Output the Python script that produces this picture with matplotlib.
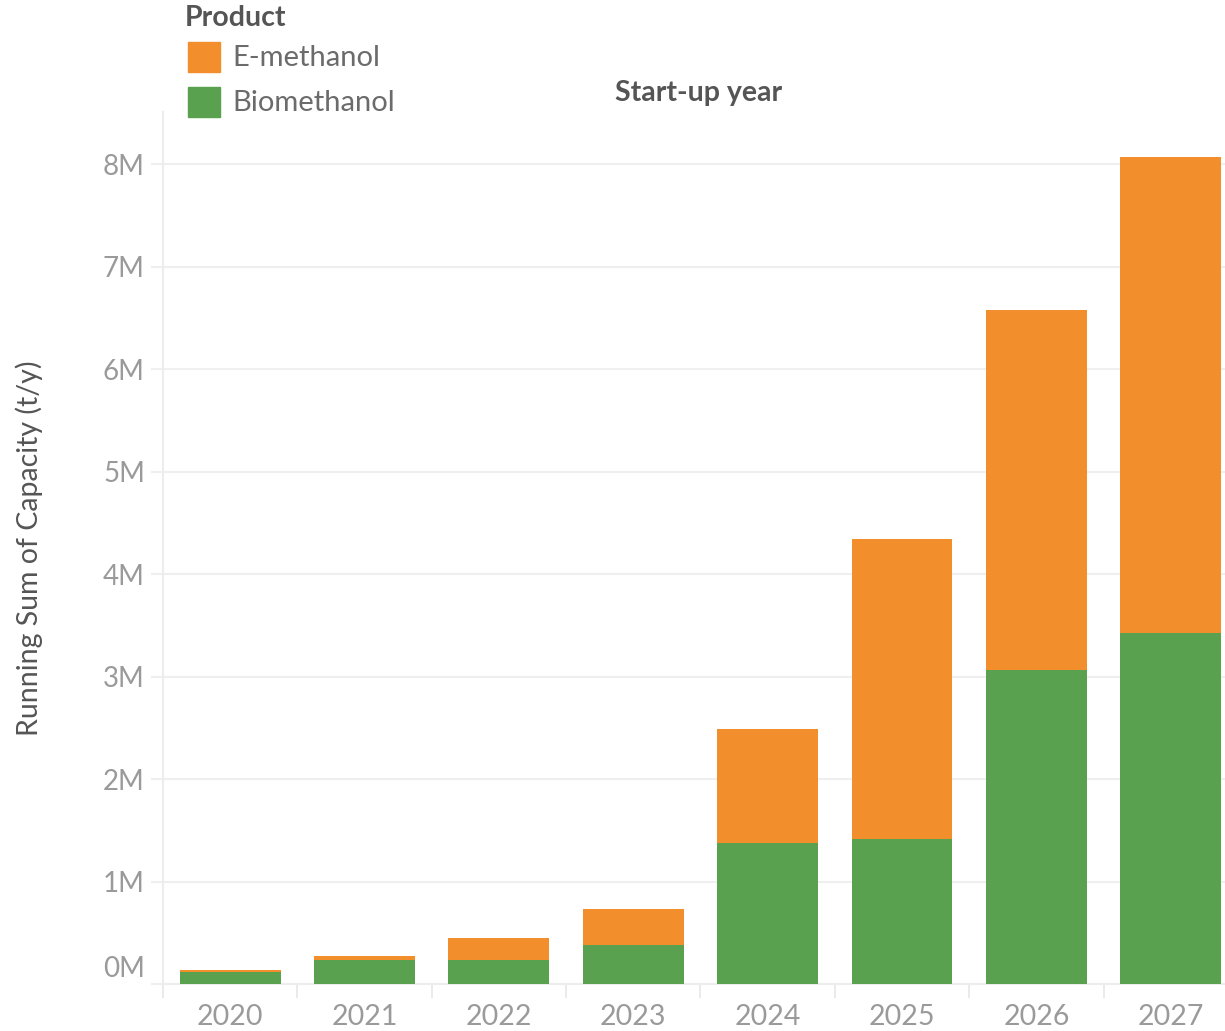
"""Running sum of methanol capacity by start-up year, stacked by product."""

import matplotlib.pyplot as plt
import matplotlib.transforms as mtransforms
import numpy as np
from matplotlib.patches import Rectangle

plt.rcParams["font.family"] = ["Lato", "DejaVu Sans"]

years = ["2020", "2021", "2022", "2023", "2024", "2025", "2026", "2027"]
# running sum (Mt/y)
biomethanol = [0.12, 0.24, 0.24, 0.38, 1.38, 1.42, 3.07, 3.43]
total = [0.14, 0.28, 0.45, 0.73, 2.49, 4.34, 6.58, 8.07]
e_methanol = [t - b for t, b in zip(total, biomethanol)]

ytick_values = [0, 1, 2, 3, 4, 5, 6, 7, 8]
ytick_labels = [f"{v}M" for v in ytick_values]

legend_labels = ["E-methanol", "Biomethanol"]

ORANGE = "#F28E2B"
GREEN = "#59A14F"
GRID = "#EFEFEF"
TICK_GRAY = "#9A9A9A"
TEXT_GRAY = "#555555"

W, H = 1225, 1031
fig = plt.figure(figsize=(W / 100, H / 100), dpi=100)
ax = fig.add_axes([0.133, 0.0453, 0.8776, 0.846])

x = np.arange(len(years))
ax.bar(x, biomethanol, width=0.75, color=GREEN, zorder=3)
ax.bar(x, e_methanol, width=0.75, bottom=biomethanol, color=ORANGE, zorder=3)

ax.set_xlim(-0.5, len(years) - 0.5)
ax.set_ylim(0, 8.51)

ax.set_yticks(ytick_values)
ax.set_yticklabels(ytick_labels)
ax.yaxis.grid(True, color=GRID, linewidth=1.5, zorder=0)
ax.tick_params(axis="y", length=9, color=GRID, width=1.5, pad=4,
               labelsize=20, labelcolor=TICK_GRAY)

# Tableau puts the zero label a bit above its line
for label in ax.get_yticklabels():
    if label.get_text() == "0M":
        offset = mtransforms.ScaledTranslation(0, 0.18, fig.dpi_scale_trans)
        label.set_transform(label.get_transform() + offset)

ax.set_xticks(x)
ax.set_xticklabels(years)
ax.tick_params(axis="x", length=0, pad=14, labelsize=20.5, labelcolor=TICK_GRAY)
ax.set_xticks(np.arange(len(years) + 1) - 0.5, minor=True)
ax.tick_params(axis="x", which="minor", length=10, color="#E6E6E6", width=1.2)

for side in ["top", "right"]:
    ax.spines[side].set_visible(False)
for side in ["left", "bottom"]:
    ax.spines[side].set_color("#EDEDED")
    ax.spines[side].set_linewidth(1.5)

ax.set_ylabel("Running Sum of Capacity (t/y)", fontsize=20.5, color=TEXT_GRAY)
ax.yaxis.set_label_coords(-0.112, 0.5)

fig.text(699 / W, 1 - 93 / H, "Start-up year", fontsize=20.5, fontweight="bold",
         color=TEXT_GRAY, ha="center", va="center")

# legend drawn by hand so it sits where Tableau puts it
fig.text(185 / W, 1 - 18 / H, "Product", fontsize=20.5, fontweight="bold",
         color=TEXT_GRAY, ha="left", va="center")
for i, (name, color) in enumerate(zip(legend_labels, [ORANGE, GREEN])):
    top = 42 + 45 * i
    fig.patches.append(Rectangle((188 / W, 1 - (top + 30) / H), 32 / W, 30 / H,
                                 transform=fig.transFigure, color=color))
    fig.text(232 / W, 1 - (top + 16) / H, name, fontsize=21,
             color="#6B6B6B", ha="left", va="center")

fig.savefig("out.png", dpi=100)
